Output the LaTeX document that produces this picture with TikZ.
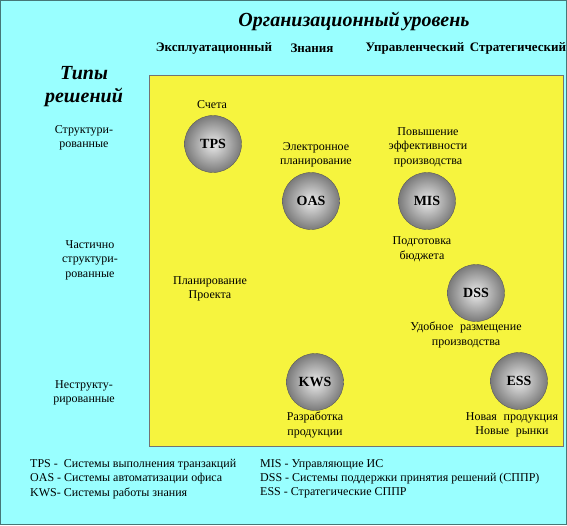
\documentclass[tikz,border=0pt]{standalone}
\usepackage{fontspec}
\newfontfamily\lserif{Liberation Serif}
\definecolor{bgcyan}{RGB}{153,255,255}
\definecolor{fieldyellow}{RGB}{246,244,62}
\definecolor{edgeteal}{RGB}{70,120,120}
\begin{document}
\begin{tikzpicture}[x=1pt,y=-1pt,
  sys/.style={circle,minimum size=57pt,inner sep=0pt,draw=black!65,
    shading=radial,inner color=black!8,outer color=black!52,
    execute at begin node={\lserif\bfseries\fontsize{14}{14}\selectfont}},
  lbl/.style={align=center,text width=130pt,inner sep=0pt,
    execute at begin node={\lserif\fontsize{12}{14.5}\selectfont}},
  head/.style={inner sep=0pt,
    execute at begin node={\lserif\bfseries\fontsize{13}{14}\selectfont}},
  big/.style={align=center,text width=260pt,inner sep=0pt,
    execute at begin node={\lserif\bfseries\itshape\fontsize{20}{23}\selectfont}},
  legend/.style={anchor=west,inner sep=0pt,
    execute at begin node={\lserif\fontsize{12}{14}\selectfont}}]
  \useasboundingbox (0,0) rectangle (567,525);
  \fill[bgcyan] (0,0) rectangle (567,525);
  \draw[edgeteal] (0.5,0.5) rectangle (566.5,524.5);
  \draw[black!55,fill=fieldyellow] (149,75) rectangle (563,446);

  % levels
  \node[big] (title) at (354,21) {Организационный уровень};
  \node[head] (oper) at (214,48) {Эксплуатационный};
  \node[head] (know) at (312,48) {Знания};
  \node[head] (mgmt) at (415,48) {Управленческий};
  \node[head] (strat) at (518,48) {Стратегический};

  % decision types
  \node[big] (types) at (84,87) {Типы\\решений};
  \node[lbl] (struct) at (84,138) {Структури-\\рованные};
  \node[lbl] (semi) at (90,260) {Частично\\структури-\\рованные};
  \node[lbl] (unstruct) at (84,393) {Неструкту-\\рированные};

  % systems
  \node[sys] (TPS) at (213,144) {TPS};
  \node[sys] (OAS) at (311,201) {OAS};
  \node[sys] (MIS) at (427,201) {MIS};
  \node[sys] (DSS) at (476,293) {DSS};
  \node[sys] (KWS) at (315,382) {KWS};
  \node[sys] (ESS) at (519,381) {ESS};

  % tasks
  \node[lbl] (bills) at (212,105) {Счета};
  \node[lbl] (eplan) at (316,155) {Электронное\\планирование};
  \node[lbl] (eff) at (428,147) {Повышение\\эффективности\\производства};
  \node[lbl] (budget) at (422,249) {Подготовка\\бюджета};
  \node[lbl] (proj) at (210,289) {Планирование\\Проекта};
  \node[lbl] (place) at (466,335) {Удобное~ размещение\\производства};
  \node[lbl] (dev) at (315,425) {Разработка\\продукции};
  \node[lbl] (market) at (512,425) {Новая~ продукция\\Новые~ рынки};

  % legend
  \node[legend] (lTPS) at (30,465) {TPS -~ Системы выполнения транзакций};
  \node[legend] (lOAS) at (30,479) {OAS - Системы автоматизации офиса};
  \node[legend] (lKWS) at (30,493) {KWS- Системы работы знания};
  \node[legend] (lMIS) at (260,465) {MIS - Управляющие ИС};
  \node[legend] (lDSS) at (260,479) {DSS - Системы поддержки принятия решений (СППР)};
  \node[legend] (lESS) at (260,493) {ESS - Стратегические СППР};
\end{tikzpicture}
\end{document}
